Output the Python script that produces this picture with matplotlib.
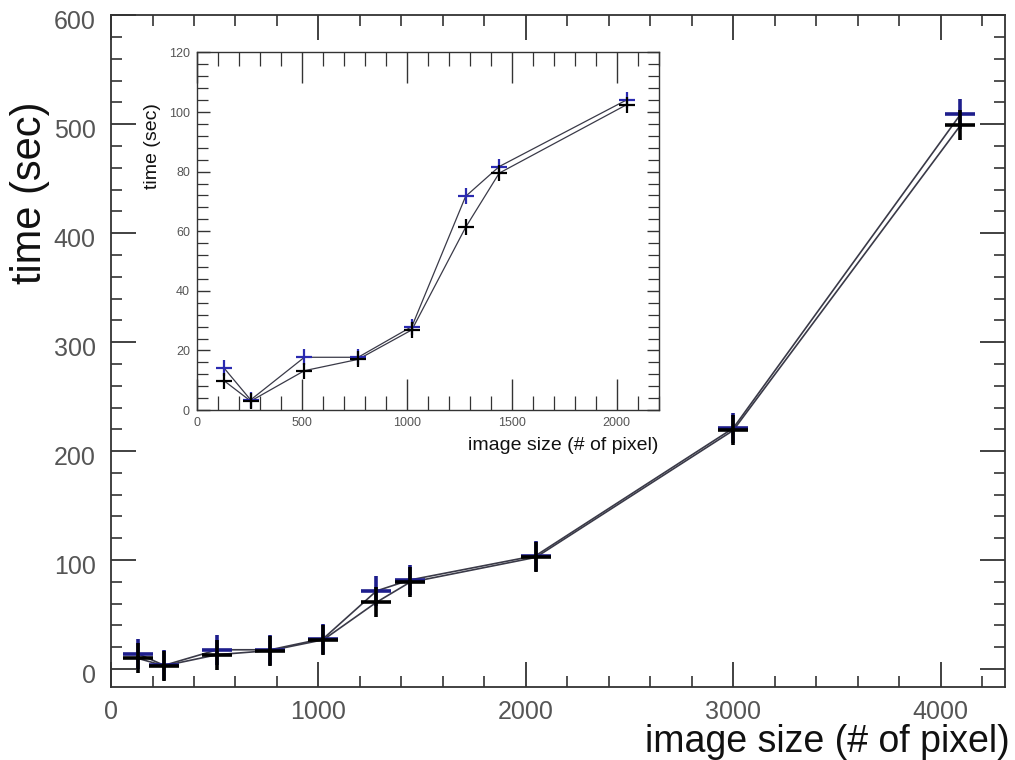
import matplotlib
matplotlib.use("Agg")
import matplotlib.pyplot as plt
from matplotlib.ticker import MultipleLocator
from matplotlib.transforms import ScaledTranslation

plt.rcParams['font.family'] = ['Liberation Sans', 'DejaVu Sans']

# image sizes (pixels) and processing times (seconds)
sizes = [128, 256, 512, 768, 1024, 1280, 1440, 2048, 3000, 4096]
time_blue = [14.2, 3.4, 17.7, 17.7, 28.0, 71.7, 81.7, 104.1, 221.0, 509.0]
time_black = [9.9, 3.0, 13.2, 17.0, 26.9, 61.3, 79.5, 102.5, 219.0, 499.0]

# subset shown in the zoomed inset
inset_sizes = sizes[:8]
inset_blue = time_blue[:8]
inset_black = time_black[:8]

BLUE = '#1e1e8c'
LINE = '#3a3a48'
TICKCOL = '#555555'

fig = plt.figure(figsize=(10.15, 7.6), dpi=100)

# ---- main axes ----
ax = fig.add_axes([0.1094, 0.096, 0.8806, 0.884])
ax.plot(sizes, time_blue, color=LINE, lw=1.2, zorder=2)
ax.plot(sizes, time_black, color=LINE, lw=1.2, zorder=2)
ax.plot(sizes, time_blue, ls='none', marker='+', ms=21, mew=2.6,
        color=BLUE, zorder=3)
ax.plot(sizes, time_black, ls='none', marker='+', ms=21, mew=2.6,
        color='black', zorder=4)

ax.set_xlim(0, 4310)
ax.set_ylim(-16.5, 600)
ax.xaxis.set_major_locator(MultipleLocator(1000))
ax.xaxis.set_minor_locator(MultipleLocator(200))
ax.yaxis.set_major_locator(MultipleLocator(100))
ax.yaxis.set_minor_locator(MultipleLocator(20))
ax.tick_params(which='both', direction='in', top=True, right=True,
               color='#333333')
ax.tick_params(which='major', length=18, width=1.3, labelsize=18,
               labelcolor=TICKCOL)
ax.tick_params(which='minor', length=8, width=1.2)
ax.tick_params(axis='x', which='major', pad=9)
ax.tick_params(axis='y', which='major', pad=11)
for sp in ax.spines.values():
    sp.set_linewidth(1.3)
    sp.set_color('#333333')

# nudge the y tick labels slightly downward
shift = ScaledTranslation(0, -3 / 72, fig.dpi_scale_trans)
for lbl in ax.get_yticklabels():
    lbl.set_transform(lbl.get_transform() + shift)

# main axis titles placed in figure coordinates
fig.text(30 / 1015, 1 - 193 / 760, 'time (sec)', fontsize=30,
         color='#111111', rotation=90, ha='center', va='center')
fig.text(1010 / 1015, 8 / 760, 'image size (# of pixel)', fontsize=27,
         color='#111111', ha='right', va='baseline')

# ---- inset axes ----
ins = fig.add_axes([0.194, 0.4605, 0.455, 0.4705])
ins.plot(inset_sizes, inset_blue, color=LINE, lw=0.9, zorder=2)
ins.plot(inset_sizes, inset_black, color=LINE, lw=0.9, zorder=2)
ins.plot(inset_sizes, inset_blue, ls='none', marker='+', ms=12, mew=1.6,
         color='#2a2ab0', zorder=3)
ins.plot(inset_sizes, inset_black, ls='none', marker='+', ms=12, mew=1.6,
         color='black', zorder=4)

ins.set_xlim(0, 2200)
ins.set_ylim(0, 120)
ins.xaxis.set_major_locator(MultipleLocator(500))
ins.xaxis.set_minor_locator(MultipleLocator(100))
ins.yaxis.set_major_locator(MultipleLocator(20))
ins.yaxis.set_minor_locator(MultipleLocator(4))
ins.tick_params(which='both', direction='in', top=True, right=True,
                color='#333333')
ins.tick_params(axis='x', which='major', length=22, width=1.0)
ins.tick_params(axis='x', which='minor', length=10, width=0.9)
ins.tick_params(axis='y', which='major', length=9, width=1.0)
ins.tick_params(axis='y', which='minor', length=8, width=0.9)
ins.tick_params(which='major', labelsize=9, labelcolor=TICKCOL, pad=5)
for sp in ins.spines.values():
    sp.set_linewidth(1.0)
    sp.set_color('#333333')

ins.set_ylabel('time (sec)', fontsize=14, color='#111111')
ins.yaxis.set_label_coords(-0.078, 0.737)
ins.set_xlabel('image size (# of pixel)', fontsize=14, color='#111111')
ins.xaxis.set_label_coords(1.0, -0.075)
ins.xaxis.label.set_horizontalalignment('right')

fig.savefig('out.png', dpi=100)
